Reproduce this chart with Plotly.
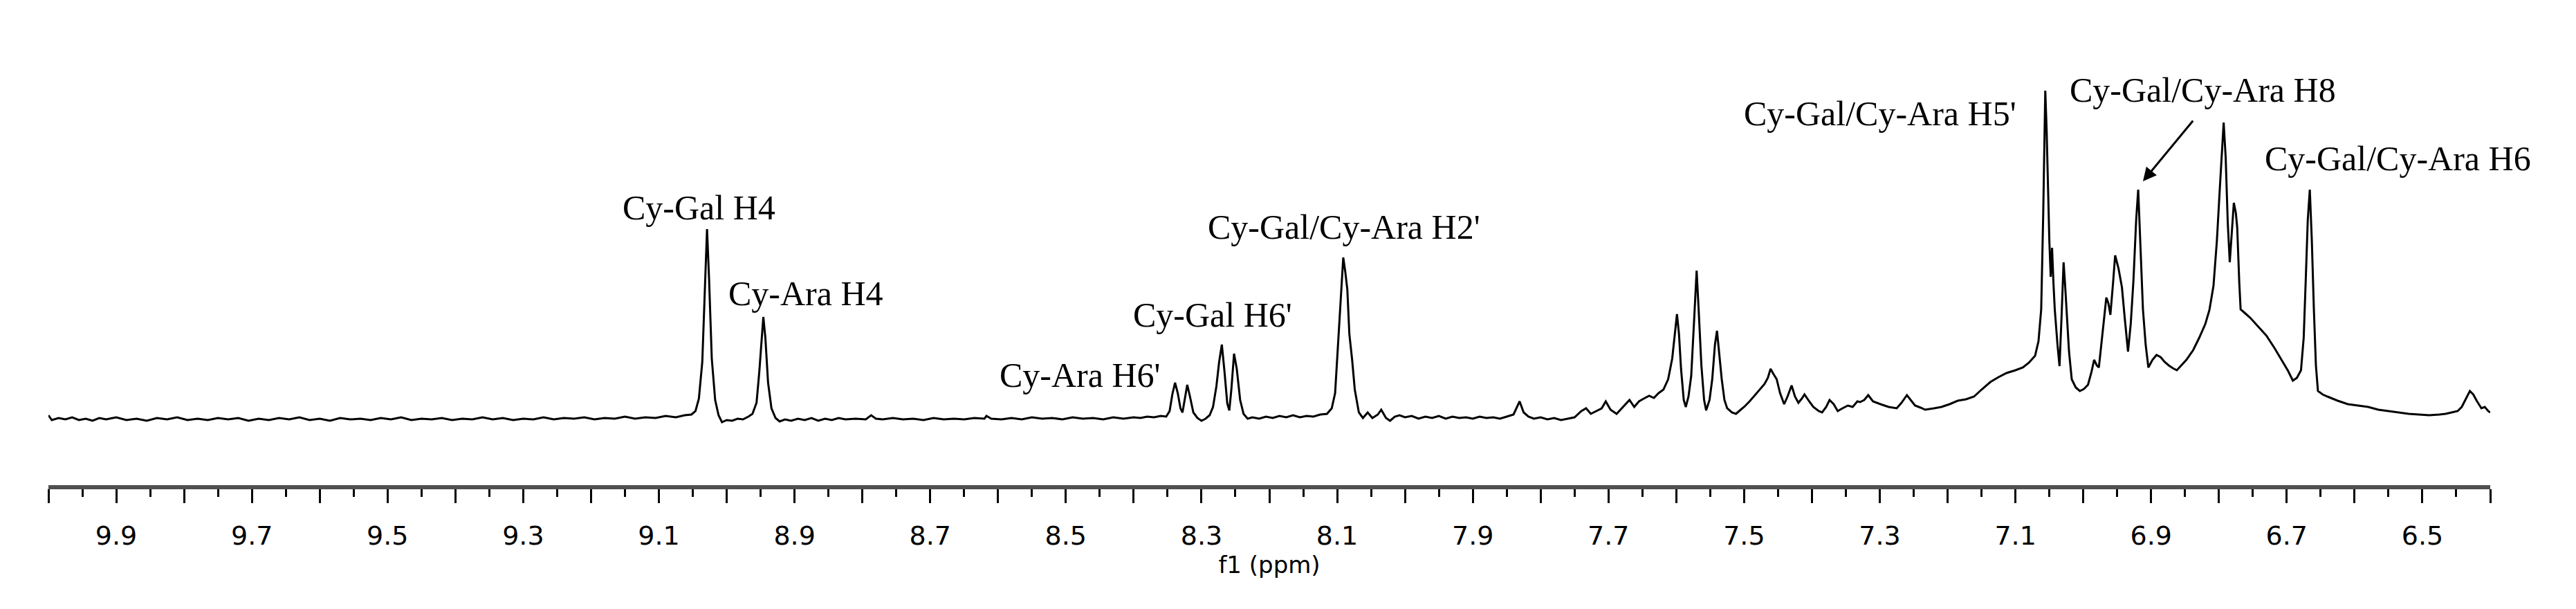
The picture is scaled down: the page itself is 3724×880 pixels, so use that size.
"""1H NMR spectrum (aromatic region) of cyanidin glycosides, redrawn with Plotly."""

import plotly.graph_objects as go

# Chemical shift (ppm) and relative intensity (a.u.)
PPM = [
    10.000, 9.995, 9.985, 9.975, 9.965, 9.955, 9.945, 9.935, 9.925, 9.915,
    9.900, 9.885, 9.870, 9.855, 9.840, 9.825, 9.810, 9.795, 9.780, 9.765,
    9.750, 9.735, 9.720, 9.705, 9.690, 9.675, 9.660, 9.645, 9.630, 9.615,
    9.600, 9.585, 9.570, 9.555, 9.540, 9.525, 9.510, 9.495, 9.480, 9.465,
    9.450, 9.435, 9.420, 9.405, 9.390, 9.375, 9.360, 9.345, 9.330, 9.315,
    9.300, 9.285, 9.270, 9.255, 9.240, 9.225, 9.210, 9.195, 9.180, 9.165,
    9.150, 9.135, 9.120, 9.105, 9.090, 9.075, 9.062, 9.052, 9.046, 9.041,
    9.036, 9.032, 9.029, 9.026, 9.022, 9.017, 9.012, 9.007, 9.000, 8.992,
    8.984, 8.976, 8.968, 8.962, 8.956, 8.952, 8.948, 8.946, 8.943, 8.939,
    8.934, 8.928, 8.922, 8.914, 8.905, 8.895, 8.885, 8.875, 8.865, 8.855,
    8.845, 8.835, 8.825, 8.810, 8.795, 8.787, 8.780, 8.770, 8.755, 8.740,
    8.725, 8.710, 8.695, 8.680, 8.665, 8.650, 8.635, 8.620, 8.617, 8.610,
    8.595, 8.580, 8.565, 8.550, 8.535, 8.520, 8.505, 8.490, 8.475, 8.460,
    8.445, 8.430, 8.415, 8.400, 8.390, 8.380, 8.370, 8.360, 8.352, 8.347,
    8.343, 8.339, 8.335, 8.331, 8.328, 8.325, 8.321, 8.317, 8.312, 8.306,
    8.300, 8.294, 8.288, 8.283, 8.278, 8.274, 8.270, 8.266, 8.262, 8.259,
    8.256, 8.252, 8.248, 8.243, 8.238, 8.232, 8.225, 8.215, 8.205, 8.195,
    8.185, 8.175, 8.165, 8.155, 8.145, 8.135, 8.125, 8.115, 8.108, 8.103,
    8.099, 8.095, 8.091, 8.088, 8.085, 8.082, 8.078, 8.074, 8.068, 8.062,
    8.055, 8.048, 8.040, 8.035, 8.028, 8.022, 8.015, 8.008, 8.000, 7.990,
    7.980, 7.970, 7.960, 7.950, 7.940, 7.930, 7.920, 7.910, 7.900, 7.890,
    7.880, 7.870, 7.860, 7.850, 7.840, 7.831, 7.825, 7.818, 7.810, 7.800,
    7.790, 7.780, 7.770, 7.760, 7.750, 7.740, 7.733, 7.726, 7.718, 7.710,
    7.704, 7.697, 7.688, 7.680, 7.674, 7.669, 7.662, 7.655, 7.648, 7.640,
    7.633, 7.626, 7.619, 7.612, 7.606, 7.602, 7.599, 7.596, 7.593, 7.589,
    7.586, 7.582, 7.578, 7.574, 7.570, 7.567, 7.563, 7.559, 7.556, 7.551,
    7.547, 7.543, 7.540, 7.537, 7.533, 7.529, 7.525, 7.518, 7.512, 7.505,
    7.500, 7.492, 7.485, 7.480, 7.475, 7.470, 7.465, 7.461, 7.457, 7.452,
    7.447, 7.441, 7.436, 7.430, 7.425, 7.420, 7.415, 7.411, 7.404, 7.398,
    7.390, 7.385, 7.379, 7.374, 7.368, 7.362, 7.355, 7.347, 7.340, 7.333,
    7.329, 7.323, 7.317, 7.310, 7.299, 7.287, 7.275, 7.268, 7.260, 7.253,
    7.248, 7.240, 7.233, 7.220, 7.209, 7.197, 7.185, 7.173, 7.161, 7.150,
    7.137, 7.125, 7.113, 7.100, 7.089, 7.080, 7.071, 7.066, 7.062, 7.059,
    7.056, 7.054, 7.052, 7.050, 7.048, 7.046, 7.044, 7.042, 7.038, 7.035,
    7.032, 7.029, 7.027, 7.025, 7.021, 7.017, 7.011, 7.005, 6.999, 6.993,
    6.988, 6.984, 6.980, 6.977, 6.972, 6.966, 6.963, 6.960, 6.956, 6.953,
    6.948, 6.943, 6.939, 6.934, 6.930, 6.926, 6.922, 6.919, 6.916, 6.912,
    6.908, 6.904, 6.898, 6.892, 6.886, 6.880, 6.874, 6.868, 6.862, 6.855,
    6.848, 6.838, 6.829, 6.820, 6.814, 6.808, 6.803, 6.799, 6.795, 6.793,
    6.790, 6.787, 6.784, 6.781, 6.778, 6.775, 6.773, 6.770, 6.768, 6.761,
    6.754, 6.742, 6.730, 6.718, 6.706, 6.698, 6.691, 6.685, 6.679, 6.675,
    6.672, 6.669, 6.666, 6.663, 6.660, 6.657, 6.654, 6.647, 6.640, 6.625,
    6.610, 6.595, 6.580, 6.565, 6.550, 6.535, 6.520, 6.505, 6.490, 6.475,
    6.466, 6.457, 6.448, 6.442, 6.436, 6.430, 6.425, 6.420, 6.413, 6.408,
    6.403, 6.400,
]
INTENSITY = [
    8, 1, 4, 2, 5, 1, 3, 0, 4, 2,
    5, 1, 3, 0, 4, 2, 5, 1, 3, 1,
    4, 2, 4, 0, 3, 1, 4, 2, 5, 1,
    3, 0, 4, 2, 3, 1, 4, 2, 5, 1,
    3, 2, 4, 1, 3, 2, 5, 2, 4, 1,
    3, 2, 5, 2, 4, 3, 5, 2, 4, 3,
    6, 3, 5, 4, 7, 5, 8, 9, 14, 32,
    85, 190, 277, 205, 90, 30, 8, -2, 1, 0,
    3, 2, 6, 10, 26, 70, 128, 150, 120, 55,
    18, 4, -1, 2, 0, 3, 1, 4, 0, 3,
    1, 4, 2, 3, 2, 8, 3, 2, 4, 2,
    3, 1, 4, 2, 3, 2, 4, 3, 7, 3,
    2, 4, 2, 5, 3, 4, 2, 5, 3, 4,
    2, 5, 3, 5, 4, 6, 5, 7, 6, 14,
    38, 55, 40, 18, 12, 30, 52, 35, 12, 4,
    0, 3, 8, 20, 50, 85, 110, 70, 25, 15,
    45, 97, 75, 30, 10, 3, 5, 3, 6, 4,
    7, 5, 8, 5, 7, 6, 9, 10, 18, 40,
    105, 180, 236, 215, 190, 125, 89, 45, 12, 4,
    12, 4, 9, 16, 4, 0, 6, 8, 5, 7,
    3, 6, 4, 7, 3, 6, 4, 5, 3, 6,
    4, 5, 3, 6, 9, 28, 12, 6, 3, 5,
    2, 4, 1, 3, 5, 14, 18, 10, 14, 18,
    28, 16, 10, 18, 24, 30, 20, 28, 32, 36,
    33, 40, 45, 60, 90, 130, 154, 125, 75, 30,
    20, 35, 65, 140, 217, 160, 80, 30, 15, 30,
    60, 110, 130, 100, 60, 30, 18, 12, 10, 16,
    20, 28, 36, 42, 48, 53, 62, 75, 68, 60,
    40, 24, 35, 51, 35, 26, 32, 38, 28, 20,
    14, 12, 20, 30, 24, 14, 18, 22, 20, 28,
    27, 30, 37, 28, 24, 20, 18, 26, 37, 28,
    22, 19, 16, 18, 20, 24, 29, 31, 35, 45,
    56, 63, 69, 73, 77, 84, 94, 115, 161, 300,
    477, 420, 330, 260, 208, 250, 200, 161, 110, 79,
    150, 229, 200, 170, 100, 60, 48, 43, 46, 52,
    70, 88, 80, 77, 120, 178, 170, 153, 200, 239,
    220, 193, 150, 100, 140, 203, 290, 334, 260, 161,
    110, 77, 88, 95, 92, 85, 80, 76, 73, 80,
    88, 102, 120, 140, 160, 195, 260, 330, 400, 431,
    380, 287, 229, 270, 315, 300, 279, 200, 161, 155,
    149, 136, 123, 105, 85, 72, 58, 62, 73, 120,
    203, 290, 334, 260, 161, 80, 43, 38, 35, 29,
    24, 22, 20, 16, 14, 12, 10, 9, 8, 9,
    10, 12, 14, 20, 31, 43, 38, 29, 18, 20,
    14, 12,
]

TICK_LABELS = ["9.9", "9.7", "9.5", "9.3", "9.1", "8.9", "8.7", "8.5", "8.3",
               "8.1", "7.9", "7.7", "7.5", "7.3", "7.1", "6.9", "6.7", "6.5"]

PEAK_LABELS = [
    "Cy-Gal H4",
    "Cy-Ara H4",
    "Cy-Ara H6'",
    "Cy-Gal H6'",
    "Cy-Gal/Cy-Ara H2'",
    "Cy-Gal/Cy-Ara H5'",
    "Cy-Gal/Cy-Ara H8",
    "Cy-Gal/Cy-Ara H6",
]

# where each label sits (ppm, intensity of the text bottom)
LABEL_POS = [
    (9.041, 278), (8.883, 154), (8.479, 36), (8.284, 123),
    (8.090, 250), (7.300, 414), (6.824, 448), (6.536, 349),
]

X_RANGE = [10.0, 6.4]
Y_RANGE = [-93, 600]

fig = go.Figure()

fig.add_trace(go.Scatter(
    x=PPM,
    y=INTENSITY,
    mode="lines",
    line=dict(color="black", width=3),
    showlegend=False,
    hoverinfo="skip",
))

# major ticks every 0.1 ppm, labelled every 0.2 ppm
tick_vals = [round(10.0 - 0.1 * i, 1) for i in range(37)]
tick_text = [f"{v:.1f}" if f"{v:.1f}" in TICK_LABELS else "" for v in tick_vals]

serif = "Liberation Serif, Times New Roman, serif"
annotations = []
for text, (px, py) in zip(PEAK_LABELS, LABEL_POS):
    annotations.append(dict(
        x=px, y=py, xref="x", yref="y",
        text=text, showarrow=False,
        xanchor="center", yanchor="bottom",
        font=dict(family=serif, size=50, color="black"),
    ))

# arrow pointing at the H8 peak
annotations.append(dict(
    x=6.912, y=346, ax=6.837, ay=435,
    xref="x", yref="y", axref="x", ayref="y",
    text="", showarrow=True,
    arrowhead=2, arrowsize=1.3, arrowwidth=3, arrowcolor="black",
    standoff=0,
))

fig.update_layout(
    width=3724,
    height=880,
    autosize=False,
    template="none",
    paper_bgcolor="white",
    plot_bgcolor="white",
    margin=dict(l=62, r=132, t=0, b=187, pad=0),
    showlegend=False,
    annotations=annotations,
    xaxis=dict(
        range=X_RANGE,
        tickmode="array",
        tickvals=tick_vals,
        ticktext=tick_text,
        ticks="outside",
        ticklen=20,
        tickwidth=3,
        tickcolor="black",
        ticklabelstandoff=14,
        minor=dict(ticks="outside", dtick=0.05, tick0=10.0,
                   ticklen=11, tickwidth=3, tickcolor="black", showgrid=False),
        showline=True,
        linecolor="#505050",
        linewidth=6,
        showgrid=False,
        zeroline=False,
        tickfont=dict(family="DejaVu Sans", size=38, color="black"),
        title=dict(text="f1 (ppm)", standoff=8,
                   font=dict(family="DejaVu Sans", size=34, color="black")),
    ),
    yaxis=dict(
        range=Y_RANGE,
        visible=False,
        showgrid=False,
        zeroline=False,
    ),
)

fig.write_html("out.html")
